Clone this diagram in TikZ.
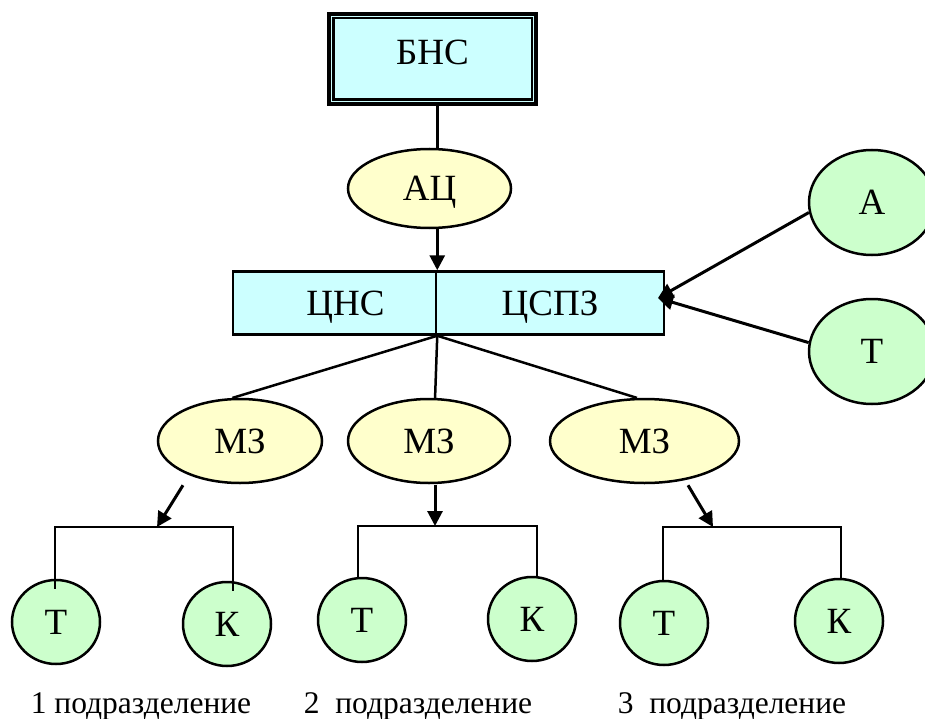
\documentclass[tikz,border=0pt]{standalone}
\usepackage{fontspec}
\setmainfont{Liberation Serif}
\usetikzlibrary{shapes.geometric,arrows.meta,calc}
\definecolor{boxcyan}{HTML}{CCFFFF}
\definecolor{ovalyellow}{HTML}{FFFFCC}
\definecolor{ovalgreen}{HTML}{CCFFCC}

\begin{document}
\begin{tikzpicture}[x=1pt,y=-1pt,
  nodefont/.style={font=\fontsize{37}{40}\selectfont, text height=24.5pt, text depth=0pt, inner sep=0pt},
  unitbox/.style={nodefont, rectangle, draw, line width=2.5pt, fill=boxcyan, minimum height=63pt},
  yoval/.style={nodefont, ellipse, draw, line width=2.5pt, fill=ovalyellow, minimum height=84pt},
  goval/.style={nodefont, ellipse, draw, line width=2.5pt, fill=ovalgreen, minimum width=88pt, minimum height=84pt},
  link/.style={line width=2.5pt},
  arrowlink/.style={line width=3pt, -{Triangle[length=15pt,width=15pt]}},
  caption/.style={font=\fontsize{31.5}{34}\selectfont, anchor=base, inner sep=0pt}]

\path[use as bounding box] (0,0) rectangle (925,719);

% headquarters box with double frame
\node[rectangle, draw, line width=3.2pt, fill=boxcyan, minimum width=207pt, minimum height=90pt,
      font=\fontsize{37}{40}\selectfont, text height=24.5pt, text depth=14pt, inner sep=0pt]
      (bns) at (432.5,59) {БНС};
\draw[line width=2.2pt] ($(bns.north west)+(6,6)$) rectangle ($(bns.south east)+(-6,-6)$);

\node[yoval, minimum width=163pt, minimum height=79pt] (ac) at (429.5,188.5) {АЦ};

% split centre box
\node[unitbox, minimum width=203pt] (cns) at (334.5,303) {\hspace*{22pt}ЦНС};
\node[unitbox, minimum width=228pt] (cspz) at (550,303) {ЦСПЗ};

% side sources
\node[goval, minimum width=126pt, minimum height=105pt] (a) at (872,202.5) {А};
\node[goval, minimum width=126pt, minimum height=105pt] (t) at (872,351.5) {Т};

% sections
\node[yoval, minimum width=164pt] (mz1) at (240,441) {МЗ};
\node[yoval, minimum width=162pt] (mz2) at (429,441) {МЗ};
\node[yoval, minimum width=189pt] (mz3) at (644.5,441) {МЗ};

% units
\node[goval] (t1) at (56,622) {Т};
\node[goval] (k1) at (227,624) {К};
\node[goval] (t2) at (362,620) {Т};
\node[goval] (k2) at (532,619) {К};
\node[goval] (t3) at (664,623) {Т};
\node[goval] (k3) at (839,621) {К};

\node[caption] (cap1) at (141,713) {1 подразделение};
\node[caption] (cap2) at (418,713) {2\ \ подразделение};
\node[caption] (cap3) at (732,713) {3\ \ подразделение};

% connectors
\coordinate (entry) at (658,298);
\coordinate (bar1) at (157,527);
\coordinate (bar2) at (435,526);
\coordinate (bar3) at (713,527);

\draw[link] (bns.south -| cns.north east) -- (ac.north -| cns.north east);
\draw[arrowlink] (ac.south -| cns.north east) -- (cns.north east);

\draw[arrowlink] (a.189) -- (entry);
\draw[arrowlink] (t.172) -- (entry);

\draw[link] (cns.south east) -- (mz1.100);
\draw[link] (cns.south east) -- (mz2.82);
\draw[link] (cns.south east) -- (mz3.100);

\draw[arrowlink] ($(mz1.south)+(-57,1)$) -- (bar1);
\draw[arrowlink] ($(mz2.south)+(6,1)$) -- (bar2);
\draw[arrowlink] ($(mz3.south)+(43.5,1)$) -- (bar3);

\draw[link] ($(t1.north)+(-1,10)$) |- (bar1) -| ($(k1.north)+(6,10)$);
\draw[link] ($(t2.north)+(-4,0)$) |- (bar2) -| ($(k2.north)+(5,0)$);
\draw[link] ($(t3.north)+(-1,0)$) |- (bar3) -| ($(k3.north)+(2,0)$);

\end{tikzpicture}
\end{document}
